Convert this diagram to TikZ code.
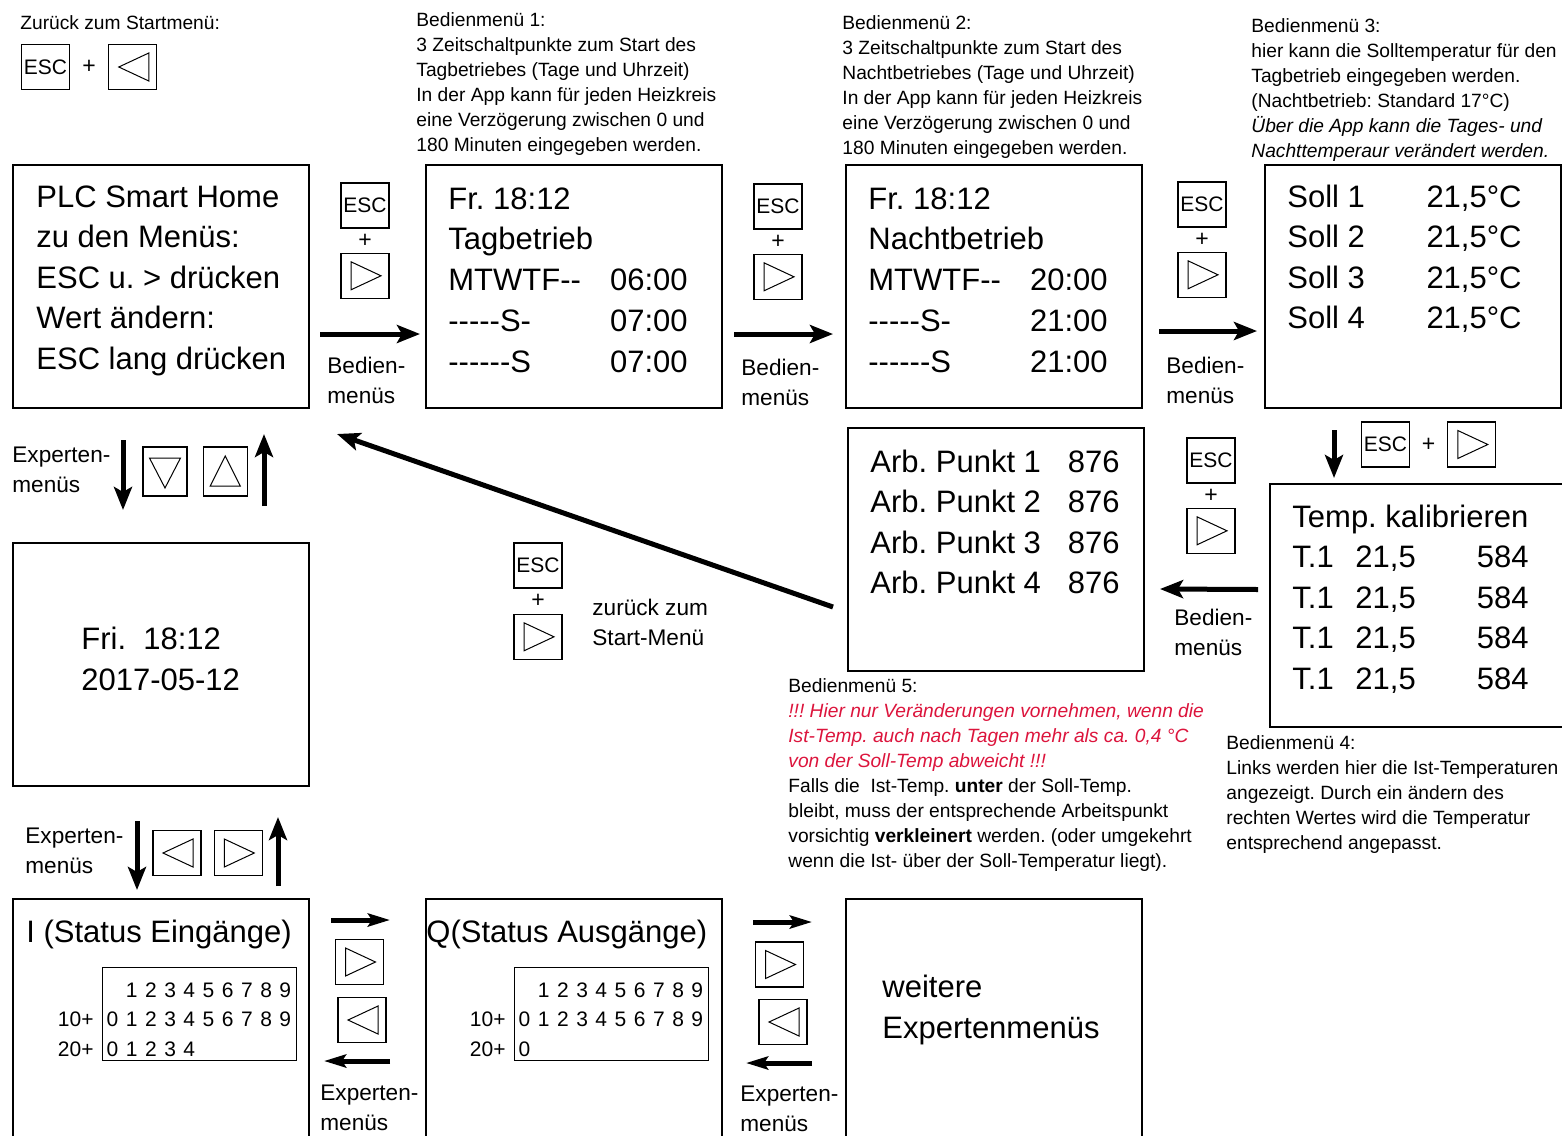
\documentclass[tikz,border=0pt]{standalone}
\usepackage{fontspec}
\setmainfont{Liberation Sans}
\usepackage{tikz}
\usetikzlibrary{arrows.meta,positioning,calc}
\definecolor{warnred}{RGB}{220,20,60}
\newcommand\hy{-\kern0pt}
\newcommand\warn[1]{{\color{warnred}\itshape #1}}
\frenchspacing

\begin{document}
\begin{tikzpicture}[
    x=0.5pt, y=-0.5pt,
    screen/.style={draw, line width=1pt, inner sep=0pt, minimum width=148pt, minimum height=121.5pt, anchor=north west},
    big/.style={inner sep=0pt, font=\fontsize{15.5pt}{20pt}\selectfont},
    note/.style={inner sep=0pt, anchor=north west, align=left, font=\fontsize{9.6pt}{12.5pt}\selectfont},
    navtext/.style={inner sep=0pt, anchor=north west, align=left, font=\fontsize{11.3pt}{14.75pt}\selectfont},
    keybox/.style={draw, line width=0.65pt, inner sep=0pt, minimum width=24pt, minimum height=22.5pt, font=\fontsize{10.5pt}{12pt}\selectfont},
    vkeybox/.style={keybox, minimum width=22pt, minimum height=24.5pt},
    rightkey/.style={keybox, path picture={\draw[line width=0.5pt] ([shift={(-7pt,7pt)}]path picture bounding box.center) -- ++(15pt,-7pt) -- ++(-15pt,-7pt) -- cycle;}},
    leftkey/.style={keybox, path picture={\draw[line width=0.5pt] ([shift={(8pt,7pt)}]path picture bounding box.center) -- ++(-15pt,-7pt) -- ++(15pt,-7pt) -- cycle;}},
    downkey/.style={vkeybox, path picture={\draw[line width=0.5pt] ([shift={(-7.75pt,6.75pt)}]path picture bounding box.center) -- ++(15.5pt,0pt) -- ++(-7.75pt,-15pt) -- cycle;}},
    upkey/.style={vkeybox, path picture={\draw[line width=0.5pt] ([shift={(-7.5pt,-7.25pt)}]path picture bounding box.center) -- ++(15pt,0pt) -- ++(-7.5pt,15pt) -- cycle;}},
    plus/.style={inner sep=0pt, font=\fontsize{11.5pt}{12pt}\selectfont},
    iotable/.style={draw, line width=0.65pt, inner sep=0pt, minimum width=97pt, minimum height=46.5pt, anchor=north west},
    digit/.style={inner sep=0pt, font=\fontsize{10.5pt}{12pt}\selectfont},
    bigarrow/.style={line width=2.5pt, -{Stealth[length=11.5pt, width=9pt, inset=2.5pt]}},
    shortarrow/.style={line width=2.5pt, -{Stealth[length=11pt, width=6.5pt, inset=2pt]}}
  ]
  \useasboundingbox (0,0) rectangle (1562,1135);
  \clip (0,0) rectangle (1562,1135);

  \node[screen] (plc) at (12,164) {};
  \node[screen] (tag) at (425,164) {};
  \node[screen] (nacht) at (845,164) {};
  \node[screen] (soll) at (1264,164) {};
  \node[screen] (kalib) at (1269,483) {};
  \node[screen] (arb) at (847,427) {};
  \node[screen] (datum) at (12,542) {};
  \node[screen] (eing) at (12,898) {};
  \node[screen] (ausg) at (425,898) {};
  \node[screen] (weitere) at (845,898) {};

  \foreach \t [count=\i from 0] in {PLC Smart Home, zu den Menüs:, ESC u. > drücken, Wert ändern:, ESC lang drücken}
    \node[big, anchor=base west] (plc\i) at (36,207+40.5*\i) {\t};

  \node[big, anchor=base west] (tag0) at (448,209) {Fr. 18:12};
  \node[big, anchor=base west] (tag1) at (448,249.75) {Tagbetrieb};
  \foreach \d/\h [count=\i from 2] in {MTWTF\hy\hy/06:00, \hy\hy\hy\hy\hy S\hy/07:00, \hy\hy\hy\hy\hy\hy S/07:00} {
    \node[big, anchor=base west] (tagd\i) at (448,209+40.75*\i) {\d};
    \node[big, anchor=base east] (tagt\i) at (688,209+40.75*\i) {\h};
  }

  \node[big, anchor=base west] (nacht0) at (868,209) {Fr. 18:12};
  \node[big, anchor=base west] (nacht1) at (868,249.75) {Nachtbetrieb};
  \foreach \d/\h [count=\i from 2] in {MTWTF\hy\hy/20:00, \hy\hy\hy\hy\hy S\hy/21:00, \hy\hy\hy\hy\hy\hy S/21:00} {
    \node[big, anchor=base west] (nachtd\i) at (868,209+40.75*\i) {\d};
    \node[big, anchor=base east] (nachtt\i) at (1108,209+40.75*\i) {\h};
  }

  \foreach \i in {1,...,4} {
    \node[big, anchor=base west] (solln\i) at (1287,207+40.5*\i-40.5) {Soll \i};
    \node[big, anchor=base east] (sollv\i) at (1522,207+40.5*\i-40.5) {21,5°C};
  }

  \node[big, anchor=base west] (kalib0) at (1292,527) {Temp. kalibrieren};
  \foreach \i in {1,...,4} {
    \node[big, anchor=base west] (kalibn\i) at (1292,527+40.5*\i) {T.1};
    \node[big, anchor=base west] (kalibt\i) at (1355,527+40.5*\i) {21,5};
    \node[big, anchor=base east] (kalibv\i) at (1529,527+40.5*\i) {584};
  }

  \foreach \i in {1,...,4} {
    \node[big, anchor=base west] (arbn\i) at (870,431.5+40.5*\i) {Arb. Punkt \i};
    \node[big, anchor=base east] (arbv\i) at (1120,431.5+40.5*\i) {876};
  }

  \node[big, anchor=base west] (datum0) at (81,649) {Fri.\ \ 18:12};
  \node[big, anchor=base west] (datum1) at (81,690) {2017-05-12};
  \node[big, anchor=base west] (eing0) at (26,942) {I (Status Eingänge)};
  \node[big, anchor=base west] (ausg0) at (426,942) {Q(Status Ausgänge)};
  \node[big, anchor=base west] (weitere0) at (882,997) {weitere};
  \node[big, anchor=base west] (weitere1) at (882,1038) {Expertenmenüs};

  \node[iotable] (intab) at (102,967) {};
  \node[iotable] (outtab) at (514,967) {};
  \foreach \tab/\last in {intab/4, outtab/0} {
    \foreach \k in {1,...,9}
      \node[digit] (\tab a\k) at ($(\tab.north west)+(10.5+19.2*\k,23)$) {\k};
    \foreach \k in {0,...,9}
      \node[digit] (\tab b\k) at ($(\tab.north west)+(10.5+19.2*\k,52)$) {\k};
    \foreach \k in {0,...,\last}
      \node[digit] (\tab c\k) at ($(\tab.north west)+(10.5+19.2*\k,82)$) {\k};
    \node[digit, anchor=east] (\tab l1) at ($(\tab.north west)+(-8,52)$) {10+};
    \node[digit, anchor=east] (\tab l2) at ($(\tab.north west)+(-8,82)$) {20+};
  }

  \node[note] (startnote) at (20,15) {Zurück zum Startmenü:};
  \node[note] (note1) at (416,12) {Bedienmenü 1:\\3 Zeitschaltpunkte zum Start des\\Tagbetriebes (Tage und Uhrzeit)\\In der App kann für jeden Heizkreis\\eine Verzögerung zwischen 0 und\\180 Minuten eingegeben werden.};
  \node[note] (note2) at (842,15) {Bedienmenü 2:\\3 Zeitschaltpunkte zum Start des\\Nachtbetriebes (Tage und Uhrzeit)\\In der App kann für jeden Heizkreis\\eine Verzögerung zwischen 0 und\\180 Minuten eingegeben werden.};
  \node[note] (note3) at (1251,18) {Bedienmenü 3:\\hier kann die Solltemperatur für den\\Tagbetrieb eingegeben werden.\\(Nachtbetrieb: Standard 17°C)\\\textit{Über die App kann die Tages- und}\\\textit{Nachttemperaur verändert werden.}};
  \node[note] (note5) at (788,678) {Bedienmenü 5:\\\warn{!!! Hier nur Veränderungen vornehmen, wenn die}\\\warn{Ist-Temp. auch nach Tagen mehr als ca. 0,4 °C}\\\warn{von der Soll-Temp abweicht !!!}\\Falls die\ \ Ist-Temp. \textbf{unter} der Soll-Temp.\\bleibt, muss der entsprechende Arbeitspunkt\\vorsichtig \textbf{verkleinert} werden. (oder umgekehrt\\wenn die Ist- über der Soll-Temperatur liegt).};
  \node[note] (note4) at (1226,735) {Bedienmenü 4:\\Links werden hier die Ist-Temperaturen\\angezeigt. Durch ein ändern des\\rechten Wertes wird die Temperatur\\entsprechend angepasst.};

  \node[navtext] (nav1) at (327,357) {Bedien-\\menüs};
  \node[navtext] (nav2) at (741,359) {Bedien-\\menüs};
  \node[navtext] (nav3) at (1166,357) {Bedien-\\menüs};
  \node[navtext] (nav4) at (1174,609) {Bedien-\\menüs};
  \node[navtext] (nav5) at (12,447) {Experten-\\menüs};
  \node[navtext] (nav6) at (25,828) {Experten-\\menüs};
  \node[navtext] (nav7) at (320,1085) {Experten-\\menüs};
  \node[navtext] (nav8) at (740,1086) {Experten-\\menüs};
  \node[navtext] (nav9) at (592,599) {zurück zum\\Start-Menü};

  \node[keybox] (esc0) at (45.5,67) {ESC};
  \node[leftkey, right=19pt of esc0] (left0) {};
  \node[plus] (plus0) at ($(esc0)!0.5!(left0)$) {+};

  \node[keybox] (esc1) at (365,205.5) {ESC};
  \node[rightkey, below=12pt of esc1] (right1) {};
  \node[plus] (plus1) at ($(esc1)!0.5!(right1)$) {+};

  \node[keybox] (esc2) at (778,206.5) {ESC};
  \node[rightkey, below=12pt of esc2] (right2) {};
  \node[plus] (plus2) at ($(esc2)!0.5!(right2)$) {+};

  \node[keybox] (esc3) at (1202,204.5) {ESC};
  \node[rightkey, below=12pt of esc3] (right3) {};
  \node[plus] (plus3) at ($(esc3)!0.5!(right3)$) {+};

  \node[keybox] (esc4) at (1385.5,444.5) {ESC};
  \node[rightkey, right=18.5pt of esc4] (right4) {};
  \node[plus] (plus4) at ($(esc4)!0.5!(right4)$) {+};

  \node[keybox] (esc5) at (1211,460.5) {ESC};
  \node[rightkey, below=12pt of esc5] (right5) {};
  \node[plus] (plus5) at ($(esc5)!0.5!(right5)$) {+};

  \node[keybox] (esc6) at (538,565.5) {ESC};
  \node[rightkey, below=12.5pt of esc6] (right6) {};
  \node[plus] (plus6) at ($(esc6)!0.5!(right6)$) {+};

  \node[downkey] (down1) at (165,471.5) {};
  \node[upkey, right=7.5pt of down1] (up1) {};
  \node[leftkey] (left7) at (177,853) {};
  \node[rightkey, right=6pt of left7] (right7) {};
  \node[rightkey] (right8) at (359.5,962) {};
  \node[leftkey] (left8) at (362,1020) {};
  \node[rightkey] (right9) at (779.5,964.5) {};
  \node[leftkey] (left9) at (783,1022) {};

  \draw[bigarrow] ([xshift=5pt,yshift=-23.75pt]plc.east) -- ([xshift=-2.5pt,yshift=-23.75pt]tag.west);
  \draw[bigarrow] ([xshift=5.5pt,yshift=-23.75pt]tag.east) -- ([xshift=-6pt,yshift=-23.75pt]nacht.west);
  \draw[bigarrow] ([xshift=8pt,yshift=-22.25pt]nacht.east) -- ([xshift=-3.5pt,yshift=-22.25pt]soll.west);
  \draw[bigarrow] ([xshift=35pt,yshift=-10.5pt]soll.south west) -- ([xshift=32.5pt,yshift=2.5pt]kalib.north west);
  \draw[bigarrow] ([xshift=-5.5pt,yshift=8pt]kalib.west) -- ([xshift=7.5pt,yshift=-19.75pt]arb.east);
  \draw[bigarrow] ([xshift=-7pt,yshift=-28.75pt]arb.west) -- ([xshift=13.5pt,yshift=-12.5pt]plc.south east);
  \draw[bigarrow] ([xshift=55.5pt,yshift=-15.5pt]plc.south west) -- ([xshift=55.5pt,yshift=16pt]datum.north west);
  \draw[bigarrow] ([xshift=126pt,yshift=18pt]datum.north west) -- ([xshift=126pt,yshift=-12.5pt]plc.south west);
  \draw[bigarrow] ([xshift=62.5pt,yshift=-17pt]datum.south west) -- ([xshift=62.5pt,yshift=4pt]eing.north west);
  \draw[bigarrow] ([xshift=133pt,yshift=6pt]eing.north west) -- ([xshift=133pt,yshift=-15pt]datum.south west);
  \draw[shortarrow] ([xshift=10.5pt,yshift=-11pt]eing.north east) -- ([xshift=-17.5pt,yshift=-11pt]ausg.north west);
  \draw[shortarrow] ([xshift=-17.5pt,yshift=-81.5pt]ausg.north west) -- ([xshift=7pt,yshift=-81.5pt]eing.north east);
  \draw[shortarrow] ([xshift=15pt,yshift=-12pt]ausg.north east) -- ([xshift=-16.5pt,yshift=-12pt]weitere.north west);
  \draw[shortarrow] ([xshift=-16.5pt,yshift=-82.5pt]weitere.north west) -- ([xshift=11.5pt,yshift=-82.5pt]ausg.north east);
\end{tikzpicture}
\end{document}
